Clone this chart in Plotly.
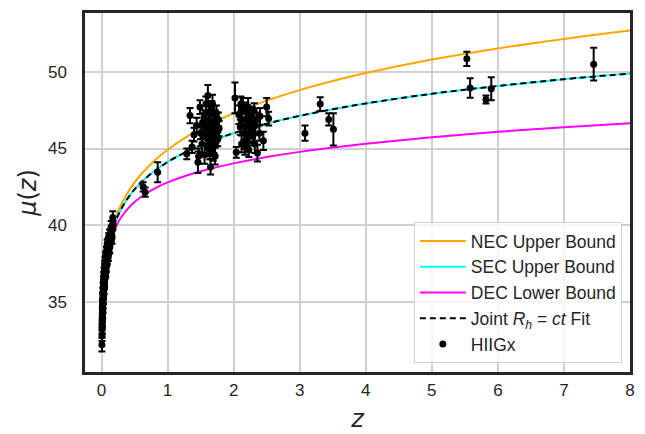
import plotly.graph_objects as go

# ---------------- data ----------------
curve_z = [0.01, 0.02, 0.04, 0.07, 0.1, 0.15, 0.2, 0.3, 0.45, 0.6, 0.8, 1.0, 1.3, 1.6,
           2.0, 2.5, 3.0, 3.5, 4.0, 5.0, 6.0, 7.0, 8.0]
nec_mu = [33.43, 34.96, 36.51, 37.78, 38.62, 39.59, 40.31, 41.37, 42.48, 43.32, 44.20, 44.92,
          45.79, 46.51, 47.30, 48.12, 48.81, 49.40, 49.92, 50.80, 51.53, 52.15, 52.70]
sec_mu = [33.42, 34.94, 36.46, 37.71, 38.51, 39.44, 40.11, 41.07, 42.07, 42.79, 43.53, 44.12,
          44.82, 45.39, 46.00, 46.62, 47.13, 47.56, 47.94, 48.57, 49.08, 49.52, 49.89]
dec_mu = [33.40, 34.89, 36.38, 37.56, 38.31, 39.14, 39.73, 40.53, 41.31, 41.85, 42.38, 42.79,
          43.26, 43.63, 44.03, 44.44, 44.78, 45.06, 45.31, 45.73, 46.09, 46.39, 46.65]
fit_mu = [33.42, 34.94, 36.46, 37.71, 38.51, 39.44, 40.11, 41.07, 42.07, 42.79, 43.53, 44.12,
          44.82, 45.39, 46.00, 46.62, 47.13, 47.56, 47.94, 48.57, 49.08, 49.52, 49.89]

hii_z = [0.006, 0.008, 0.009, 0.010, 0.011, 0.012, 0.013, 0.014, 0.015, 0.016,
         0.017, 0.018, 0.019, 0.020, 0.021, 0.022, 0.023, 0.024, 0.025, 0.026,
         0.027, 0.028, 0.029, 0.030, 0.031, 0.032, 0.033, 0.034, 0.035, 0.036,
         0.037, 0.038, 0.039, 0.040, 0.041, 0.042, 0.043, 0.044, 0.045, 0.046,
         0.047, 0.048, 0.050, 0.052, 0.054, 0.056, 0.058, 0.060, 0.062, 0.064,
         0.066, 0.068, 0.070, 0.072, 0.074, 0.076, 0.078, 0.080, 0.082, 0.084,
         0.086, 0.088, 0.090, 0.092, 0.094, 0.096, 0.098, 0.100, 0.103, 0.106,
         0.109, 0.112, 0.115, 0.118, 0.121, 0.124, 0.127, 0.130, 0.134, 0.138,
         0.142, 0.146, 0.150, 0.155, 0.160, 0.165, 0.170, 0.175,
         0.63, 0.66, 0.85,
         1.29, 1.34, 1.37, 1.40, 1.44, 1.46, 1.47, 1.49, 1.50, 1.52,
         1.55, 1.57, 1.59, 1.61, 1.62, 1.63, 1.64, 1.65, 1.66, 1.67,
         1.68, 1.69, 1.70, 1.72, 1.73, 1.75, 1.77,
         1.58, 1.60, 1.62, 1.64, 1.66, 1.68, 1.70, 1.71, 1.72, 1.74,
         1.76, 1.78, 1.53, 1.56,
         2.02, 2.04, 2.08, 2.10, 2.12, 2.14, 2.16, 2.18, 2.20, 2.21,
         2.23, 2.25, 2.27, 2.29, 2.31, 2.33, 2.36, 2.39, 2.45, 2.50, 2.53,
         2.11, 2.13, 2.17, 2.19, 2.22, 2.24, 2.26, 2.28, 2.32, 2.35, 2.40,
         3.08, 3.31, 3.44, 3.51, 5.53, 5.58, 5.82, 5.90, 7.45]
hii_mu = [32.20, 33.23, 32.79, 33.62, 33.33, 34.32, 33.80, 34.26, 33.81, 34.75,
          34.58, 34.31, 35.22, 34.84, 35.24, 34.55, 35.54, 35.14, 35.93, 35.21,
          35.70, 35.28, 35.95, 36.43, 35.70, 35.47, 36.34, 36.10, 35.87, 36.63,
          36.19, 36.55, 35.81, 36.96, 36.32, 36.67, 36.22, 36.97, 36.72, 36.47,
          37.42, 36.37, 37.16, 36.95, 37.53, 36.81, 37.39, 37.17, 37.94, 36.91,
          37.88, 37.65, 37.41, 37.98, 37.34, 38.30, 37.85, 38.31, 37.67, 38.22,
          38.78, 38.03, 37.78, 38.53, 38.38, 38.82, 38.17, 38.62, 37.99, 38.95,
          39.21, 38.58, 38.44, 39.10, 38.95, 39.41, 38.57, 39.42, 39.09, 39.46,
          39.03, 39.89, 39.25, 39.63, 39.20, 39.98, 40.50, 40.01,
          42.50, 42.15, 43.45,
          44.65, 47.15, 45.10, 45.90, 46.50, 44.10, 44.50, 47.70, 46.00, 45.30,
          47.00, 46.40, 45.70, 48.45, 47.30, 46.80, 44.90, 43.80, 46.20, 47.60,
          45.40, 44.65, 46.60, 47.10, 45.90, 46.30, 46.90,
          47.90, 46.10, 45.00, 47.40, 45.80, 47.90, 45.20, 46.90, 44.50, 47.30,
          45.60, 46.30, 46.70, 44.60,
          48.30, 44.75, 47.20, 46.40, 45.30, 47.80, 46.00, 47.40, 45.60, 46.80,
          44.90, 47.00, 46.20, 45.80, 47.50, 46.50, 44.70, 46.00, 45.50, 47.70, 46.95,
          47.90, 46.90, 45.10, 46.50, 47.70, 45.90, 46.70, 47.20, 45.30, 46.90, 47.10,
          46.00, 47.90, 46.90, 46.25, 50.85, 48.95, 48.20, 48.90, 50.50]
hii_err = [0.45, 0.30, 0.35, 0.25, 0.40, 0.30, 0.35, 0.28, 0.42, 0.30,
           0.26, 0.38, 0.32, 0.25, 0.40, 0.30, 0.35, 0.28, 0.33, 0.30,
           0.26, 0.38, 0.32, 0.25, 0.40, 0.30, 0.35, 0.28, 0.33, 0.30,
           0.26, 0.38, 0.32, 0.25, 0.40, 0.30, 0.35, 0.28, 0.33, 0.30,
           0.26, 0.38, 0.32, 0.25, 0.40, 0.30, 0.35, 0.28, 0.33, 0.30,
           0.26, 0.38, 0.32, 0.25, 0.40, 0.30, 0.35, 0.28, 0.33, 0.30,
           0.26, 0.38, 0.32, 0.25, 0.40, 0.30, 0.35, 0.28, 0.33, 0.30,
           0.26, 0.38, 0.32, 0.25, 0.40, 0.30, 0.35, 0.28, 0.33, 0.30,
           0.26, 0.38, 0.32, 0.25, 0.40, 0.30, 0.40, 0.28,
           0.30, 0.30, 0.65,
           0.35, 0.50, 0.40, 0.45, 0.50, 0.70, 0.50, 0.45, 0.40, 0.60,
           0.50, 0.55, 0.40, 0.70, 0.60, 0.50, 0.60, 0.50, 0.45, 0.50,
           0.50, 0.45, 0.60, 0.40, 0.55, 0.50, 0.45,
           0.50, 0.45, 0.50, 0.55, 0.50, 0.60, 0.50, 0.40, 0.55, 0.50,
           0.45, 0.50, 0.60, 0.60,
           1.00, 0.35, 0.60, 0.50, 0.55, 0.50, 0.45, 0.60, 0.50, 0.50,
           0.45, 0.55, 0.50, 0.60, 0.45, 0.50, 0.55, 0.50, 0.60, 0.60, 0.45,
           0.50, 0.55, 0.50, 0.50, 0.60, 0.45, 0.55, 0.50, 0.60, 0.45, 0.55,
           0.50, 0.45, 0.40, 1.05, 0.47, 0.64, 0.26, 0.75, 1.07]

x_ticks = [0, 1, 2, 3, 4, 5, 6, 7, 8]
y_ticks = [35, 40, 45, 50]

# ---------------- figure ----------------
TXT = "#262626"
FONT = "Liberation Sans, Arial, sans-serif"

fig = go.Figure()
fig.add_trace(go.Scatter(x=curve_z, y=nec_mu, mode="lines", line=dict(color="#FFA500", width=2, shape="spline"),
                         name="NEC Upper Bound"))
fig.add_trace(go.Scatter(x=curve_z, y=sec_mu, mode="lines", line=dict(color="#00FFFF", width=2, shape="spline"),
                         name="SEC Upper Bound"))
fig.add_trace(go.Scatter(x=curve_z, y=dec_mu, mode="lines", line=dict(color="#FF00FF", width=2, shape="spline"),
                         name="DEC Lower Bound"))
fig.add_trace(go.Scatter(x=curve_z, y=fit_mu, mode="lines",
                         line=dict(color="black", width=2, dash="6px,4px", shape="spline"),
                         name="Joint <i>R<sub>h</sub></i> = <i>ct</i> Fit"))
fig.add_trace(go.Scatter(x=hii_z, y=hii_mu, mode="markers", name="HIIGx",
                         marker=dict(color="black", size=7),
                         error_y=dict(type="data", array=hii_err, visible=True, color="black",
                                      thickness=2, width=3.5)))

# page body adds an 8px margin: figure is sized/offset to compensate
fig.update_layout(
    width=637, height=426,
    margin=dict(l=77, r=15, t=2, b=62),
    paper_bgcolor="white", plot_bgcolor="white",
    font=dict(family=FONT, size=17, color=TXT),
    showlegend=True,
    legend=dict(x=0.985, y=0.025, xanchor="right", yanchor="bottom",
                bgcolor="rgba(255,255,255,0.8)", bordercolor="#d0d0d0", borderwidth=1,
                font=dict(family=FONT, size=17.5, color=TXT), tracegroupgap=0,
                itemwidth=46),
)
fig.update_xaxes(range=[-0.25, 8.0], tickvals=x_ticks, ticktext=[str(v) for v in x_ticks],
                 showgrid=True, gridcolor="#d0d0d0", gridwidth=1.5, zeroline=False,
                 showline=True, mirror=True, linecolor=TXT, linewidth=2.5,
                 ticks="outside", ticklen=1, tickcolor="rgba(0,0,0,0)",
                 tickfont=dict(family=FONT, size=17, color=TXT),
                 title=dict(text="<i>z</i>", font=dict(family="DejaVu Sans", size=24, color=TXT), standoff=12))
fig.update_yaxes(range=[30.42, 53.84], tickvals=y_ticks, ticktext=[str(v) for v in y_ticks],
                 showgrid=True, gridcolor="#d0d0d0", gridwidth=1.5, zeroline=False,
                 showline=True, mirror=True, linecolor=TXT, linewidth=2.5,
                 ticks="outside", ticklen=12, tickcolor="rgba(0,0,0,0)",
                 tickfont=dict(family=FONT, size=17, color=TXT),
                 title=dict(text="<i>μ</i>(<i>z</i>)", font=dict(family="DejaVu Sans", size=24, color=TXT), standoff=5))

fig.write_html("out.html")
